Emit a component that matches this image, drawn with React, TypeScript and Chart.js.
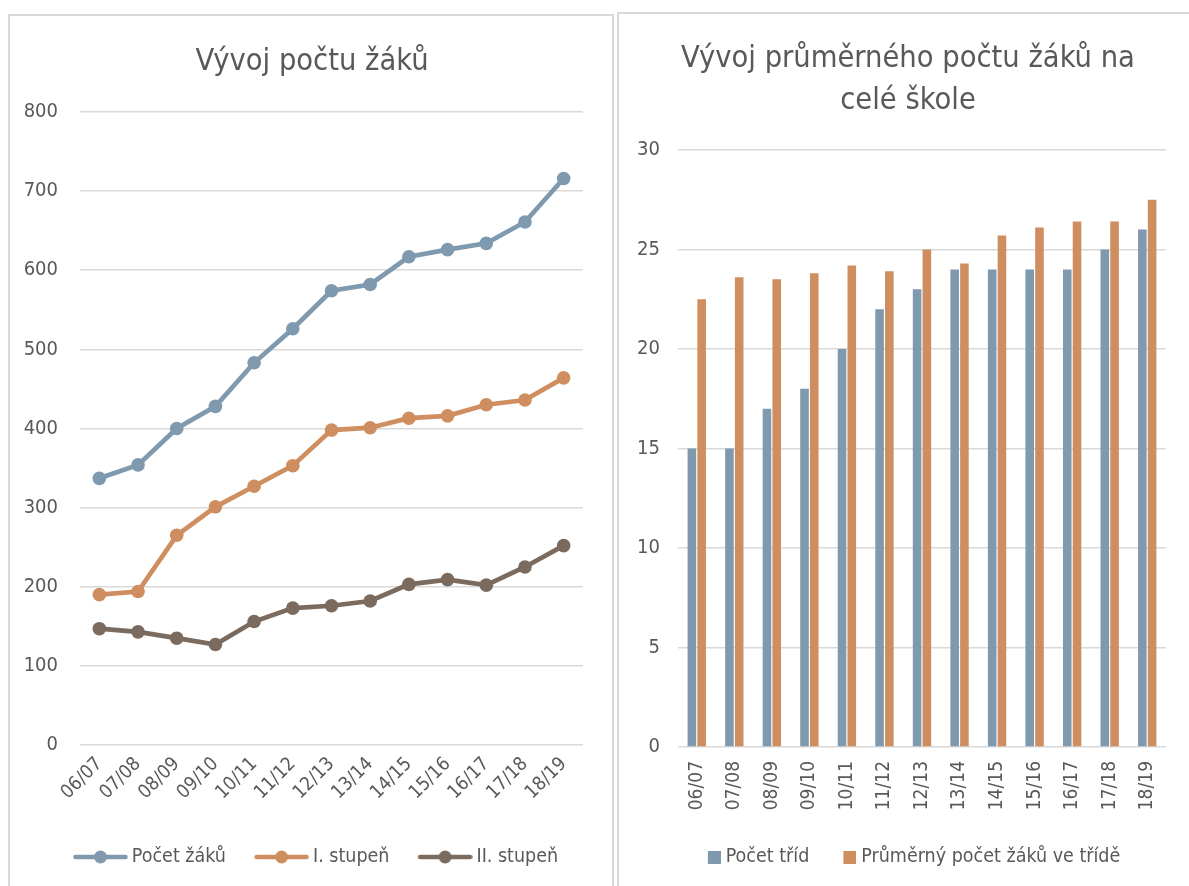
import React, { useEffect, useRef } from "react";
import { Chart, registerables } from "chart.js";

Chart.register(...registerables);

const years = ["06/07", "07/08", "08/09", "09/10", "10/11", "11/12", "12/13", "13/14", "14/15", "15/16", "16/17", "17/18", "18/19"];
const pocetZaku = [337, 354, 400, 428, 483, 526, 574, 582, 617, 626, 634, 661, 716];
const stupen1 = [190, 194, 265, 301, 327, 353, 398, 401, 413, 416, 430, 436, 464];
const stupen2 = [147, 143, 135, 127, 156, 173, 176, 182, 203, 209, 202, 225, 252];
const pocetTrid = [15, 15, 17, 18, 20, 22, 23, 24, 24, 24, 24, 25, 26];
const prumerZaku = [22.5, 23.6, 23.5, 23.8, 24.2, 23.9, 25.0, 24.3, 25.7, 26.1, 26.4, 26.4, 27.5];

const BLUE = "#7f99af";
const ORANGE = "#cf8e5f";
const BROWN = "#7b6a5e";
const TEXT = "#595959";
const GRID = "#d9d9d9";
const FONT = "'Liberation Sans Narrow', 'Arial Narrow', 'DejaVu Sans Condensed', 'Liberation Sans', sans-serif";

const TITLE_SIZE = 30.5;
const TICK_SIZE = 20;
const XTICK_SIZE = 19;
const LEGEND_SIZE = 19.5;

// legend marker: line with a dot, drawn at the right end of a wider transparent image
function lineMarker(color: string, iw: number, len: number): HTMLCanvasElement {
  const c = document.createElement("canvas");
  c.width = iw;
  c.height = 16;
  const ctx = c.getContext("2d")!;
  const x0 = iw - len;
  ctx.strokeStyle = color;
  ctx.lineWidth = 4.5;
  ctx.lineCap = "round";
  ctx.beginPath();
  ctx.moveTo(x0 + 2.5, 8);
  ctx.lineTo(iw - 2.5, 8);
  ctx.stroke();
  ctx.fillStyle = color;
  ctx.beginPath();
  ctx.arc(x0 + len / 2, 8, 6.5, 0, Math.PI * 2);
  ctx.fill();
  return c;
}

function squareMarker(color: string, iw: number, size: number): HTMLCanvasElement {
  const c = document.createElement("canvas");
  c.width = iw;
  c.height = size;
  const ctx = c.getContext("2d")!;
  ctx.fillStyle = color;
  ctx.fillRect(iw - size, 0, size, size);
  return c;
}

const shiftPlugin = {
  id: "shiftBlocks",
  afterLayout(chart: any, _args: any, opts: any) {
    const t = chart.titleBlock;
    if (t && opts.title) {
      t.left += opts.title;
      t.right += opts.title;
    }
    const l = chart.legend;
    if (l && opts.legend) {
      l.left += opts.legend;
      l.right += opts.legend;
    }
  },
};

function LineChart() {
  const ref = useRef<HTMLCanvasElement>(null);
  useEffect(() => {
    const colors = [BLUE, ORANGE, BROWN];
    const chart = new Chart(ref.current!, {
      type: "line",
      data: {
        labels: years,
        datasets: [
          { label: "Počet žáků", data: pocetZaku },
          { label: "I. stupeň", data: stupen1 },
          { label: "II. stupeň", data: stupen2 },
        ].map((d, i) => ({
          ...d,
          borderColor: colors[i],
          backgroundColor: colors[i],
          borderWidth: 4.7,
          pointRadius: 6.8,
          pointHoverRadius: 6.8,
          pointBorderWidth: 0,
          pointBackgroundColor: colors[i],
          tension: 0,
        })),
      },
      plugins: [shiftPlugin],
      options: {
        responsive: false,
        animation: false,
        devicePixelRatio: 1,
        layout: { padding: { left: 0, right: 29, top: 0, bottom: 9.25 } },
        plugins: {
          shiftBlocks: { title: 15.5, legend: 10 },
          tooltip: { enabled: false },
          title: {
            display: true,
            text: "Vývoj počtu žáků",
            color: TEXT,
            font: { family: FONT, size: TITLE_SIZE, weight: "normal", lineHeight: 1.15 },
            padding: { top: 28.5, bottom: 32.4 },
          },
          legend: {
            position: "bottom",
            labels: {
              color: TEXT,
              font: { family: FONT, size: LEGEND_SIZE },
              usePointStyle: true,
              pointStyleWidth: 67.25,
              padding: 10,
              generateLabels: (ch: any) =>
                ch.data.datasets.map((ds: any, i: number) => ({
                  text: ds.label,
                  fillStyle: colors[i],
                  strokeStyle: colors[i],
                  lineWidth: 0,
                  pointStyle: lineMarker(colors[i], 79, 55),
                  fontColor: TEXT,
                  hidden: false,
                  datasetIndex: i,
                })),
            },
          },
        },
        scales: {
          x: {
            offset: true,
            grid: { display: false, drawTicks: false },
            border: { display: false },
            ticks: {
              color: TEXT,
              font: { family: FONT, size: XTICK_SIZE },
              minRotation: 45,
              maxRotation: 45,
              autoSkip: false,
              padding: 8,
            },
            afterFit: (s: any) => {
              s.height = 92.25;
            },
          },
          y: {
            min: 0,
            max: 800,
            grid: { color: GRID, lineWidth: 1.5, drawTicks: false },
            border: { display: false },
            ticks: {
              stepSize: 100,
              color: TEXT,
              font: { family: FONT, size: TICK_SIZE },
              padding: 22,
            },
            afterFit: (s: any) => {
              s.width = 70;
            },
          },
        },
      } as any,
    });
    return () => chart.destroy();
  }, []);
  return <canvas ref={ref} width={602} height={870} style={{ position: "absolute", left: 10, top: 16, width: 602, height: 870 }} />;
}

function BarChart() {
  const ref = useRef<HTMLCanvasElement>(null);
  useEffect(() => {
    const colors = [BLUE, ORANGE];
    const chart = new Chart(ref.current!, {
      type: "bar",
      data: {
        labels: years,
        datasets: [
          { label: "Počet tříd", data: pocetTrid, backgroundColor: BLUE },
          { label: "Průměrný počet žáků ve třídě", data: prumerZaku, backgroundColor: ORANGE },
        ],
      },
      plugins: [shiftPlugin],
      options: {
        responsive: false,
        animation: false,
        devicePixelRatio: 1,
        datasets: { bar: { categoryPercentage: 0.52, barPercentage: 0.88 } },
        layout: { padding: { left: 0, right: 31, top: 0, bottom: 9.25 } },
        plugins: {
          shiftBlocks: { title: 15.5, legend: 9.5 },
          tooltip: { enabled: false },
          title: {
            display: true,
            text: ["Vývoj průměrného počtu žáků na", "celé škole"],
            color: TEXT,
            font: { family: FONT, size: TITLE_SIZE, weight: "normal", lineHeight: 1.38 },
            padding: { top: 24, bottom: 27.8 },
          },
          legend: {
            position: "bottom",
            labels: {
              color: TEXT,
              font: { family: FONT, size: LEGEND_SIZE },
              usePointStyle: true,
              pointStyleWidth: 32.25,
              padding: 10,
              generateLabels: (ch: any) =>
                ch.data.datasets.map((ds: any, i: number) => ({
                  text: ds.label,
                  fillStyle: colors[i],
                  strokeStyle: colors[i],
                  lineWidth: 0,
                  pointStyle: squareMarker(colors[i], 42, 13),
                  fontColor: TEXT,
                  hidden: false,
                  datasetIndex: i,
                })),
            },
          },
        },
        scales: {
          x: {
            grid: { display: false, drawTicks: false },
            border: { display: false },
            ticks: {
              color: TEXT,
              font: { family: FONT, size: XTICK_SIZE },
              minRotation: 90,
              maxRotation: 90,
              autoSkip: false,
              padding: 14,
            },
            afterFit: (s: any) => {
              s.height = 90.25;
            },
          },
          y: {
            min: 0,
            max: 30,
            grid: { color: GRID, lineWidth: 1.5, drawTicks: false },
            border: { display: false },
            ticks: {
              stepSize: 5,
              color: TEXT,
              font: { family: FONT, size: TICK_SIZE },
              padding: 18,
            },
            afterFit: (s: any) => {
              s.width = 59;
            },
          },
        },
      } as any,
    });
    return () => chart.destroy();
  }, []);
  return <canvas ref={ref} width={578} height={872} style={{ position: "absolute", left: 619, top: 14, width: 578, height: 872 }} />;
}

export default function App() {
  return (
    <div style={{ position: "absolute", left: 0, top: 0, width: 1189, height: 886, overflow: "hidden", background: "#ffffff" }}>
      <div style={{ position: "absolute", left: 8, top: 14, width: 606, height: 900, border: "2px solid #d9d9d9", boxSizing: "border-box" }} />
      <div style={{ position: "absolute", left: 617, top: 12, width: 700, height: 900, border: "2px solid #d9d9d9", boxSizing: "border-box" }} />
      <LineChart />
      <BarChart />
    </div>
  );
}
